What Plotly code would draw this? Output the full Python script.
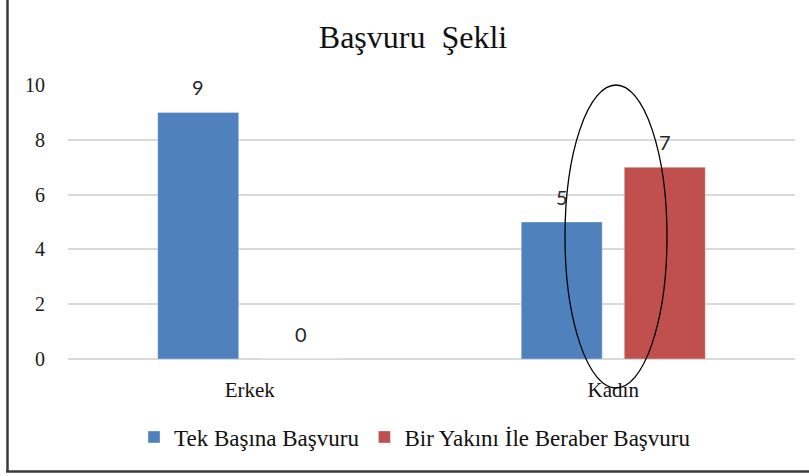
import plotly.graph_objects as go

categories = ["Erkek", "Kadın"]
series_names = ["Tek Başına Başvuru", "Bir Yakını İle Beraber Başvuru"]
tek_basina = [9, 5]
bir_yakini = [0, 7]
y_ticks = [0, 2, 4, 6, 8, 10]

colors = ["#4f81bd", "#c0504d"]

W, H = 809, 476
L, R, T, B = 68, 14, 85, 117
plot_w = W - L - R
plot_h = H - T - B

def px_x(px):
    return (px - L) / plot_w

def px_y(py):
    return (H - B - py) / plot_h

bargap = 0.433
bargroupgap = 0.214
serif = "Liberation Serif, Times New Roman, serif"

fig = go.Figure()
for name, vals, col in zip(series_names, [tek_basina, bir_yakini], colors):
    fig.add_trace(go.Bar(
        x=categories, y=vals, name=name,
        marker=dict(color=col, line=dict(color="rgba(255,255,255,0.35)", width=1)),
    ))

# data labels
offset = (1 - bargap) / 4
for si, vals in enumerate([tek_basina, bir_yakini]):
    for ci, v in enumerate(vals):
        fig.add_annotation(
            x=ci + (-offset if si == 0 else offset), y=v, xref="x", yref="y",
            text=str(v), showarrow=False, yshift=25,
            font=dict(family="Lato, Liberation Sans, sans-serif", size=20, color="#262626"),
        )

shapes = [
    # ellipse annotation around the Kadın group
    dict(type="circle", xref="paper", yref="paper",
         x0=px_x(565), x1=px_x(667), y0=px_y(388), y1=px_y(85),
         line=dict(color="black", width=1.3)),
    # chart frame: left and bottom edges
    dict(type="line", xref="paper", yref="paper",
         x0=px_x(7.5), x1=px_x(7.5), y0=px_y(0), y1=px_y(471.5),
         line=dict(color="#3a3a3a", width=2.5)),
    dict(type="line", xref="paper", yref="paper",
         x0=px_x(6), x1=px_x(809), y0=px_y(471.5), y1=px_y(471.5),
         line=dict(color="#3a3a3a", width=2.5)),
]

fig.update_layout(
    width=W, height=H,
    margin=dict(l=L, r=R, t=T, b=B),
    paper_bgcolor="white", plot_bgcolor="white",
    barmode="group", bargap=bargap, bargroupgap=bargroupgap,
    title=dict(text="Başvuru  Şekli", xref="container", x=413 / W, xanchor="center",
               y=1 - 37 / H, yanchor="middle",
               font=dict(family=serif, size=32, color="#111")),
    font=dict(family=serif, color="#111"),
    xaxis=dict(
        showgrid=False, showline=False, zeroline=False,
        ticks="outside", ticklen=12, tickcolor="rgba(0,0,0,0)",
        tickfont=dict(size=21, color="#111"),
    ),
    yaxis=dict(
        range=[0, 10], tickvals=y_ticks,
        showgrid=True, gridcolor="#d9d9d9", gridwidth=1.5,
        zeroline=True, zerolinecolor="#d9d9d9", zerolinewidth=1.5,
        showline=False, ticks="outside", ticklen=18, tickcolor="rgba(0,0,0,0)",
        tickfont=dict(size=20, color="#1a1a1a", family=serif),
    ),
    legend=dict(orientation="h", x=px_x(415), xanchor="center", y=px_y(437), yanchor="middle",
                font=dict(size=23, color="#111"), itemwidth=30, traceorder="normal"),
    shapes=shapes,
    showlegend=True,
)

fig.write_html("out.html", config={"displayModeBar": False})

# remove default page margin so the figure sits at the window origin
with open("out.html", "r", encoding="utf-8") as f:
    html = f.read()
html = html.replace("<head>", "<head><style>html,body{margin:0;padding:0;overflow:hidden;}</style>", 1)
with open("out.html", "w", encoding="utf-8") as f:
    f.write(html)
